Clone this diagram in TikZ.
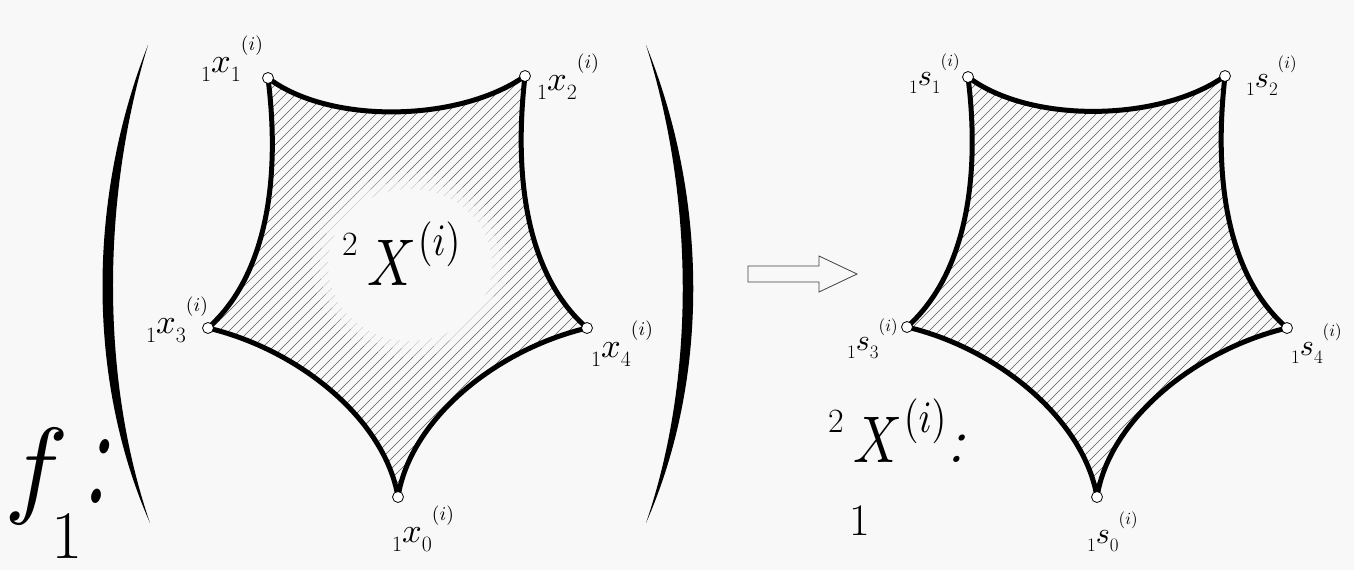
\documentclass[tikz,border=0pt]{standalone}
\usepackage{graphicx}

\definecolor{paper}{gray}{0.972}
\definecolor{hatch}{gray}{0.35}

% vertex label: prescript 1, letter, index, (i) raised after it
\newcommand{\vlab}[2]{\raisebox{-8pt}{\fontsize{19}{19}\selectfont 1}\scalebox{3}{$#1$}\raisebox{-8pt}{\fontsize{19}{19}\selectfont #2}\raisebox{19pt}{\scalebox{1.7}{$(i)$}}}
\newcommand{\bigX}{\raisebox{30pt}{\fontsize{34}{34}\selectfont 2}\hspace{10pt}\scalebox{5.4}[6.6]{$X$}\hspace{1pt}\raisebox{30pt}{\scalebox{3.8}[4.5]{$(i)$}}}
% concave pentagon through the five corners #10 ... #14
\newcommand{\starpath}[1]{(#11) .. controls +(62,47) and +(-65,46) .. (#12)
  .. controls +(-13,114) and +(-55,-48) .. (#14)
  .. controls +(-92,22) and +(12,-77) .. (#10)
  .. controls +(-13,-77) and +(92,22) .. (#13)
  .. controls +(54,-48) and +(14,112) .. (#11) -- cycle}

\tikzset{
  vdot/.style={circle, draw, fill=white, inner sep=0pt, minimum size=11pt, line width=0.8pt},
  rim/.style={line width=5pt, line join=round},
  hatchline/.style={hatch, line width=0.6pt},
  lab/.style={anchor=base west, inner sep=0pt, text depth=0pt}
}

\begin{document}
\begin{tikzpicture}[x=1pt,y=-1pt]
\useasboundingbox[fill=paper] (0,0) rectangle (1354,570);

\coordinate (x1) at (268,78);
\coordinate (x2) at (525,76);
\coordinate (x4) at (587,328);
\coordinate (x0) at (398,497);
\coordinate (x3) at (208,328);

\coordinate (s1) at (968,77);
\coordinate (s2) at (1225,76);
\coordinate (s4) at (1287,328);
\coordinate (s0) at (1097,497);
\coordinate (s3) at (907,327);

% hatching
\begin{scope}
\clip \starpath{x};
\foreach \a in {-300,-290,...,600}
  \draw[hatchline] (\a,520) -- ++(500,-500);
\end{scope}
\begin{scope}
\clip \starpath{s};
\foreach \a in {400,410,...,1300}
  \draw[hatchline] (\a,520) -- ++(500,-500);
\end{scope}

% clear patch behind the big label
\fill[paper, opacity=0.35] (410,265) ellipse [x radius=98, y radius=92];
\fill[paper, opacity=0.6] (410,265) ellipse [x radius=90, y radius=84];
\fill[paper] (410,265) ellipse [x radius=82, y radius=76];

\draw[rim] \starpath{x};
\draw[rim] \starpath{s};

\foreach \v in {x0,x1,x2,x3,x4,s0,s1,s2,s3,s4}
  \node[vdot] (d\v) at (\v) {};

% big parentheses
\fill (148,45) .. controls (87,200) and (87,380) .. (150,523)
  .. controls (101,380) and (101,200) .. (148,45) -- cycle;
\fill (646,45) .. controls (709,200) and (709,380) .. (646,523)
  .. controls (695,380) and (695,200) .. (646,45) -- cycle;

% map arrow
\draw[gray!50!black, line width=0.8pt] (748,266) -- (819,266) -- (819,256) -- (857,274)
  -- (819,292) -- (819,282) -- (748,282) -- cycle;

% labels
\node[lab] (labx1) at (201,72) {\scalebox{1.15}{\vlab{x}{1}}};
\node[lab] (labx2) at (537,90) {\scalebox{1.15}{\vlab{x}{2}}};
\node[lab] (labx3) at (146,333) {\scalebox{1.15}{\vlab{x}{3}}};
\node[lab] (labx4) at (591,357) {\scalebox{1.15}{\vlab{x}{4}}};
\node[lab] (labx0) at (392,542) {\scalebox{1.15}{\vlab{x}{0}}};

\node[lab] (labs1) at (909,85) {\vlab{s}{1}};
\node[lab] (labs2) at (1246,87) {\vlab{s}{2}};
\node[lab] (labs3) at (847,350) {\vlab{s}{3}};
\node[lab] (labs4) at (1291,355) {\vlab{s}{4}};
\node[lab] (labs0) at (1087,543) {\vlab{s}{0}};

\node[lab] (bigXl) at (342,285) {\bigX};
\node[lab] (bigXr) at (828,462) {\bigX};
\node[anchor=base, inner sep=0pt, text depth=0pt] (bigXsub) at (860,535) {\fontsize{45}{45}\selectfont 1};
\node[anchor=base west, inner sep=0pt] (bigXcolon) at (946,462) {\fontsize{64}{64}\selectfont\textit{:}};

\node[lab] (fmap) at (4,503) {\scalebox{10.8}{$f$}};
\node[anchor=base, inner sep=0pt, text depth=0pt] (fsub) at (67,558) {\fontsize{68}{68}\selectfont 1};
\node[anchor=base, inner sep=0pt] (fcolon) at (95,503) {\scalebox{0.9}[1.35]{\fontsize{110}{110}\selectfont\textit{:}}};

\end{tikzpicture}
\end{document}
